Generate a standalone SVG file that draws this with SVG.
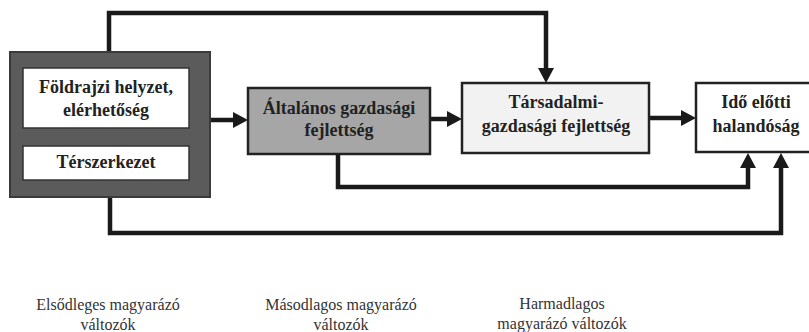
<svg xmlns="http://www.w3.org/2000/svg" width="809" height="332" viewBox="0 0 809 332">
<style>
.bt{font-family:'Liberation Serif','DejaVu Serif',serif;font-weight:bold;font-size:18px;fill:#222;text-anchor:middle}
.lt{font-family:'Liberation Serif','DejaVu Serif',serif;font-size:16px;fill:#333;text-anchor:middle}
.inner{fill:#fff;stroke:#333;stroke-width:1.5}
.box{stroke:#222;stroke-width:2.5}
.conn{fill:none;stroke:#1a1a1a;stroke-width:4.5;stroke-linejoin:miter}
</style>
<defs>
<marker id="ah" markerUnits="userSpaceOnUse" markerWidth="15" markerHeight="16" viewBox="0 0 15 16" refX="5" refY="8" orient="auto">
<path d="M0,0 L15,8 L0,16 z" fill="#1a1a1a"/>
</marker>
</defs>
<rect width="809" height="332" fill="#fff"/>
<g id="connectors">
<path class="conn" d="M109,52 V13 H546 V73" marker-end="url(#ah)"/>
<path class="conn" d="M210,120 H238" marker-end="url(#ah)"/>
<path class="conn" d="M430,119 H452" marker-end="url(#ah)"/>
<path class="conn" d="M649,118 H686" marker-end="url(#ah)"/>
<path class="conn" d="M338,154 V187 H748 V163" marker-end="url(#ah)"/>
<path class="conn" d="M110,197 V233 H781 V163" marker-end="url(#ah)"/>
</g>
<g id="primary">
<rect x="10" y="52" width="200" height="145" fill="#5b5b5b" stroke="#3a3a3a" stroke-width="2"/>
<g id="foldrajzi">
<rect class="inner" x="23" y="68" width="166" height="60"/>
<text class="bt" x="106" y="93">Földrajzi helyzet,</text>
<text class="bt" x="106" y="116">elérhetőség</text>
</g>
<g id="terszerkezet">
<rect class="inner" x="23" y="146" width="166" height="34"/>
<text class="bt" x="106" y="168">Térszerkezet</text>
</g>
</g>
<g id="altalanos">
<rect class="box" x="248" y="88" width="182" height="66" fill="#a6a6a6"/>
<text class="bt" x="339" y="114">Általános gazdasági</text>
<text class="bt" x="339" y="136">fejlettség</text>
</g>
<g id="tarsadalmi">
<rect class="box" x="462" y="83" width="187" height="70" fill="#f2f2f2"/>
<text class="bt" x="556" y="108">Társadalmi-</text>
<text class="bt" x="556" y="132">gazdasági fejlettség</text>
</g>
<g id="halandosag">
<rect class="box" x="696" y="83" width="124" height="69" fill="#fff"/>
<text class="bt" x="756" y="108">Idő előtti</text>
<text class="bt" x="756" y="132">halandóság</text>
</g>
<g id="labels">
<text class="lt" x="108" y="310">Elsődleges magyarázó</text>
<text class="lt" x="108" y="330">változók</text>
<text class="lt" x="341" y="310">Másodlagos magyarázó</text>
<text class="lt" x="341" y="330">változók</text>
<text class="lt" x="562" y="309">Harmadlagos</text>
<text class="lt" x="562" y="329">magyarázó változók</text>
</g>
</svg>
